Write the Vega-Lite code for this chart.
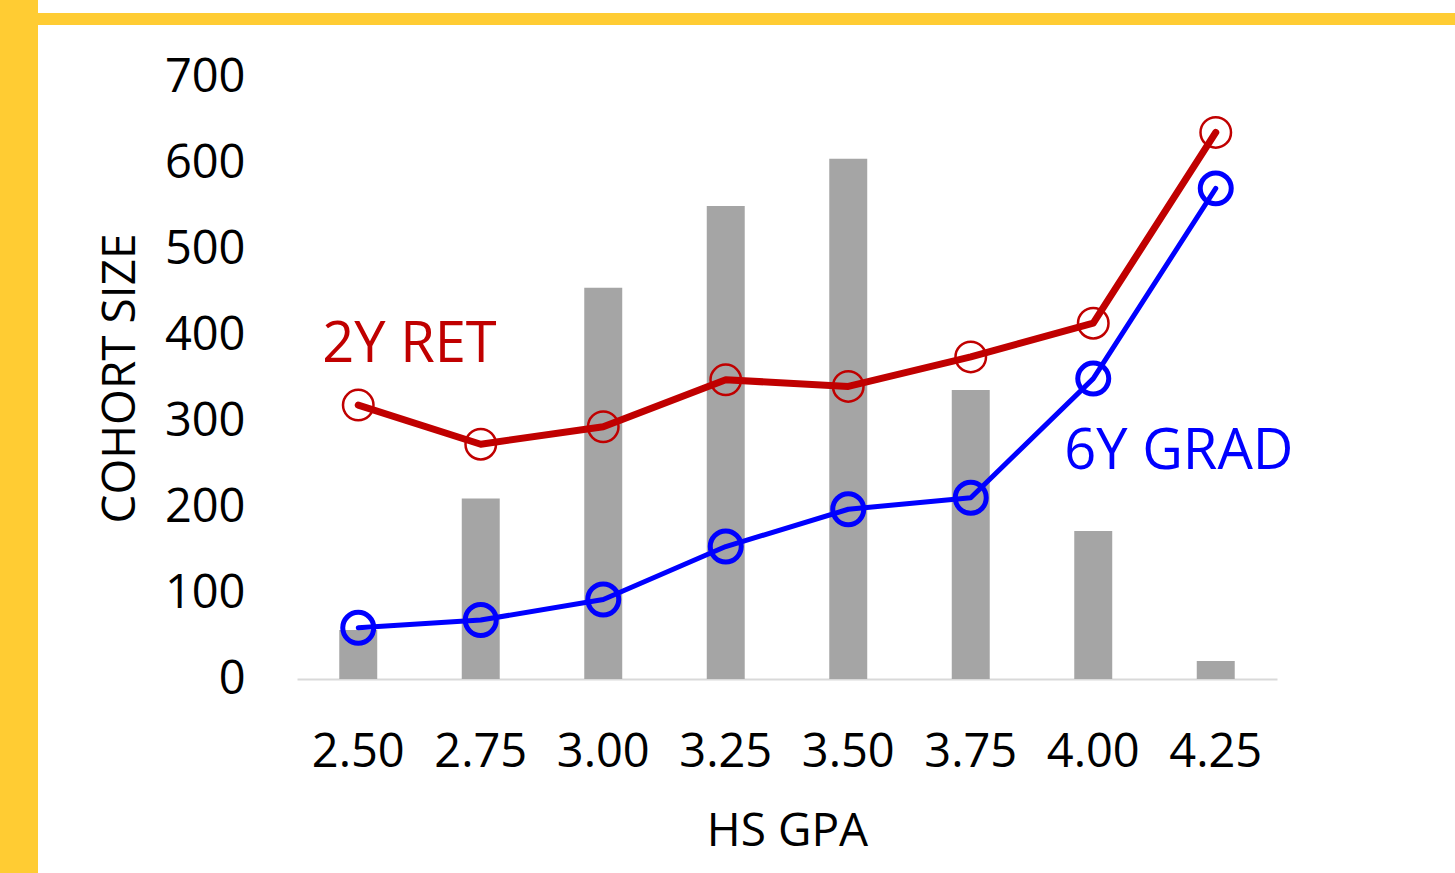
{
  "$schema": "https://vega.github.io/schema/vega-lite/v6.json",
  "padding": 0,
  "background": "white",
  "config": {
    "view": {"stroke": null},
    "font": "Open Sans",
    "axis": {"labelFont": "Open Sans", "titleFont": "Open Sans", "labelColor": "#000000", "titleColor": "#000000", "titleFontWeight": "normal"},
    "text": {"font": "Open Sans"}
  },
  "datasets": {
    "main": [
      {"gpa": "2.50", "cohort": 57, "ret2": 0.455, "grad6": 0.085},
      {"gpa": "2.75", "cohort": 210, "ret2": 0.390, "grad6": 0.098},
      {"gpa": "3.00", "cohort": 455, "ret2": 0.419, "grad6": 0.132},
      {"gpa": "3.25", "cohort": 550, "ret2": 0.497, "grad6": 0.220},
      {"gpa": "3.50", "cohort": 605, "ret2": 0.486, "grad6": 0.282},
      {"gpa": "3.75", "cohort": 336, "ret2": 0.535, "grad6": 0.301},
      {"gpa": "4.00", "cohort": 172, "ret2": 0.591, "grad6": 0.499},
      {"gpa": "4.25", "cohort": 21, "ret2": 0.908, "grad6": 0.815}
    ],
    "labels": [
      {"gpa": "2.50", "pct": 0.527, "label": "2Y RET"},
      {"gpa": "4.00", "pct": 0.349, "label": "6Y GRAD"}
    ],
    "blank": [{}]
  },
  "bounds": "flush",
  "spacing": 0,
  "hconcat": [
    {
      "width": 38, "height": 873,
      "view": {"fill": "#ffcc33", "stroke": null},
      "data": {"name": "blank"},
      "mark": {"type": "point", "opacity": 0},
      "encoding": {}
    },
    {
      "bounds": "flush",
      "spacing": 77,
      "vconcat": [
        {
          "bounds": "flush",
          "spacing": 0,
          "vconcat": [
            {
              "width": 1417, "height": 13,
              "view": {"fill": "white", "stroke": null},
              "data": {"name": "blank"},
              "mark": {"type": "point", "opacity": 0},
              "encoding": {}
            },
            {
              "width": 1417, "height": 12,
              "view": {"fill": "#ffcc33", "stroke": null},
              "data": {"name": "blank"},
              "mark": {"type": "point", "opacity": 0},
              "encoding": {}
            }
          ]
        },
        {
          "bounds": "flush",
          "spacing": 258,
          "hconcat": [
            {
              "width": 1, "height": 602,
              "data": {"name": "blank"},
              "mark": {"type": "point", "opacity": 0},
              "encoding": {}
            },
            {
              "width": 980,
              "height": 602,
              "data": {"name": "main"},
              "encoding": {
                "x": {
                  "field": "gpa", "type": "ordinal",
                  "scale": {"paddingInner": 0.69, "paddingOuter": 0.345},
                  "axis": {
                    "title": "HS GPA", "labelAngle": 0, "labelFontSize": 47, "titleFontSize": 46,
                    "ticks": false, "labelPadding": 50, "titlePadding": 34,
                    "domainColor": "#d9d9d9", "domainWidth": 2
                  }
                }
              },
              "layer": [
                {
                  "mark": {"type": "bar", "color": "#a5a5a5"},
                  "encoding": {
                    "y": {
                      "field": "cohort", "type": "quantitative",
                      "scale": {"domain": [0, 700]},
                      "axis": {
                        "title": "COHORT SIZE", "values": [0, 100, 200, 300, 400, 500, 600, 700],
                        "grid": false, "domain": false, "ticks": false,
                        "labelPadding": 52, "labelFontSize": 47, "titleFontSize": 46,
                        "titlePadding": 20, "labelFlush": false, "labelOverlap": false
                      }
                    }
                  }
                },
                {
                  "layer": [
                    {
                      "mark": {"type": "line", "color": "#c00000", "strokeWidth": 7, "strokeCap": "round", "strokeJoin": "round"},
                      "encoding": {
                        "y": {
                          "field": "ret2", "type": "quantitative",
                          "scale": {"domain": [0, 1]},
                          "axis": {
                            "orient": "right", "title": null, "format": ".0%",
                            "values": [0, 0.2, 0.4, 0.6, 0.8, 1],
                            "grid": false, "domain": false, "ticks": false,
                            "labelPadding": 56, "labelFontSize": 47,
                            "labelFlush": false, "labelOverlap": false
                          }
                        }
                      }
                    },
                    {
                      "mark": {"type": "point", "shape": "circle", "size": 930, "filled": false, "color": "#c00000", "strokeWidth": 2.5, "opacity": 1},
                      "encoding": {
                        "y": {"field": "ret2", "type": "quantitative", "scale": {"domain": [0, 1]}, "axis": null}
                      }
                    },
                    {
                      "mark": {"type": "line", "color": "#0000ff", "strokeWidth": 5, "strokeCap": "round", "strokeJoin": "round"},
                      "encoding": {
                        "y": {"field": "grad6", "type": "quantitative", "scale": {"domain": [0, 1]}, "axis": null}
                      }
                    },
                    {
                      "mark": {"type": "point", "shape": "circle", "size": 960, "filled": false, "color": "#0000ff", "strokeWidth": 5, "opacity": 1},
                      "encoding": {
                        "y": {"field": "grad6", "type": "quantitative", "scale": {"domain": [0, 1]}, "axis": null}
                      }
                    },
                    {
                      "data": {"name": "labels"},
                      "transform": [{"filter": "datum.label === '2Y RET'"}],
                      "mark": {"type": "text", "align": "left", "baseline": "alphabetic", "fontSize": 56, "dx": -36, "color": "#c00000"},
                      "encoding": {
                        "y": {"field": "pct", "type": "quantitative", "scale": {"domain": [0, 1]}, "axis": null},
                        "text": {"field": "label"}
                      }
                    },
                    {
                      "data": {"name": "labels"},
                      "transform": [{"filter": "datum.label === '6Y GRAD'"}],
                      "mark": {"type": "text", "align": "left", "baseline": "alphabetic", "fontSize": 56, "dx": -29, "color": "#0000ff"},
                      "encoding": {
                        "y": {"field": "pct", "type": "quantitative", "scale": {"domain": [0, 1]}, "axis": null},
                        "text": {"field": "label"}
                      }
                    }
                  ]
                }
              ],
              "resolve": {"scale": {"y": "independent"}}
            }
          ]
        }
      ]
    }
  ]
}
